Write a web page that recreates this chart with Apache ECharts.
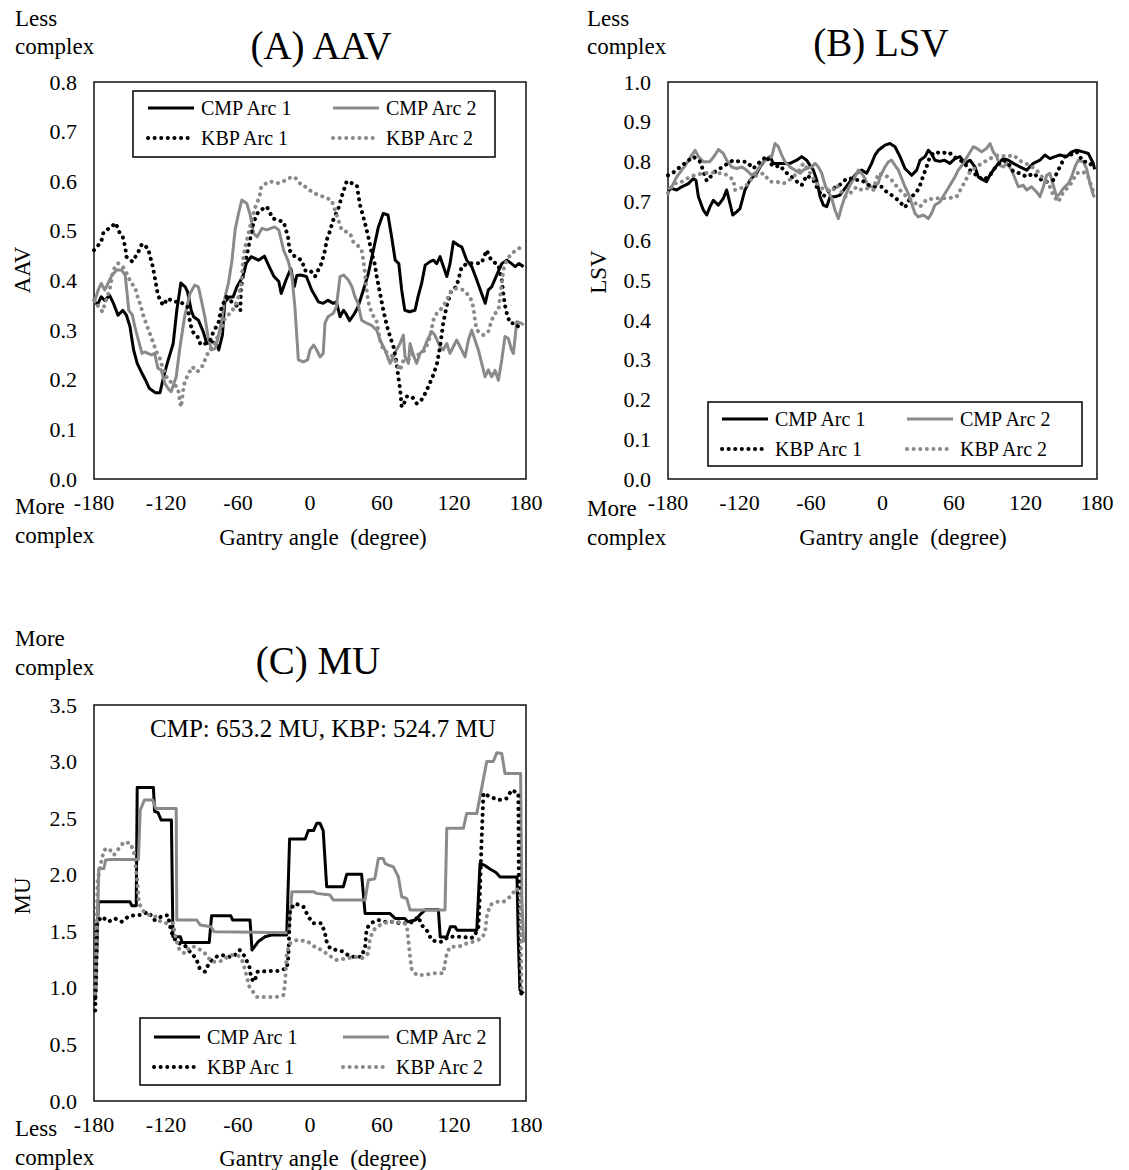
<!DOCTYPE html>
<html><head><meta charset="utf-8">
<script src="https://cdn.jsdelivr.net/npm/echarts@6/dist/echarts.min.js"></script>
<style>html,body{margin:0;padding:0;background:#fff}#c{width:1129px;height:1170px}</style>
</head><body><div id="c"></div>
<script>
// ---------- DATA ----------
const xTicks = [-180, -120, -60, 0, 60, 120, 180];
const seriesNames = ['CMP Arc 1', 'CMP Arc 2', 'KBP Arc 1', 'KBP Arc 2'];

// (A) AAV  [gantry angle, value]
const aavCmp1 = [[-180,0.357],[-177,0.352],[-174,0.367],[-171,0.36],[-167,0.37],[-164,0.355],[-160,0.33],[-156,0.34],[-153,0.33],[-150,0.307],[-147,0.26],[-144,0.233],[-140,0.213],[-137,0.199],[-134,0.183],[-129,0.174],[-125,0.174],[-122,0.206],[-119,0.233],[-114,0.273],[-111,0.34],[-107.6,0.395],[-104,0.387],[-102,0.377],[-99,0.34],[-97,0.327],[-93,0.32],[-89,0.297],[-86,0.273],[-82,0.277],[-78,0.273],[-76,0.26],[-73,0.29],[-71,0.357],[-67,0.367],[-64,0.367],[-61,0.387],[-56,0.408],[-53,0.435],[-49,0.448],[-43,0.441],[-38,0.449],[-34,0.428],[-30,0.408],[-26,0.398],[-24,0.374],[-20,0.401],[-16,0.424],[-13,0.388],[-11,0.41],[-8,0.411],[-3,0.408],[1.4,0.381],[7,0.357],[11,0.354],[15,0.36],[19.4,0.354],[22,0.357],[25,0.327],[28,0.34],[30,0.333],[33,0.319],[37,0.333],[40,0.347],[44.5,0.381],[48.6,0.414],[52.8,0.461],[57,0.508],[61,0.535],[65,0.532],[68,0.488],[71,0.441],[74,0.434],[76.4,0.381],[79,0.34],[83,0.337],[87.5,0.34],[90,0.367],[93,0.394],[96,0.431],[100,0.438],[103,0.441],[105.6,0.434],[108.4,0.448],[114,0.408],[116.7,0.434],[119.5,0.478],[123.6,0.471],[126.4,0.468],[130.6,0.441],[134.8,0.428],[139,0.401],[143,0.374],[146,0.354],[148.6,0.381],[151.4,0.387],[155.6,0.411],[159.8,0.434],[164,0.441],[168,0.434],[171,0.428],[174,0.434],[178,0.428]];
const aavCmp2 = [[-180,0.354],[-176.5,0.381],[-174,0.394],[-171,0.381],[-165,0.411],[-161,0.421],[-157,0.421],[-154,0.411],[-151,0.34],[-148,0.33],[-146,0.307],[-143,0.28],[-140,0.253],[-137.6,0.256],[-135,0.253],[-132,0.25],[-129.5,0.253],[-126.7,0.223],[-124,0.22],[-121,0.193],[-118.4,0.183],[-115.7,0.176],[-111.5,0.206],[-108.7,0.26],[-104.5,0.327],[-100,0.374],[-96,0.391],[-93,0.387],[-90.5,0.36],[-87.6,0.327],[-85,0.287],[-82,0.26],[-79,0.263],[-76.4,0.287],[-73.6,0.32],[-70.8,0.367],[-68,0.394],[-65,0.441],[-62.4,0.502],[-59.6,0.535],[-56.8,0.562],[-52.6,0.555],[-49.8,0.532],[-47,0.495],[-44,0.488],[-40,0.505],[-36,0.502],[-29.5,0.508],[-26,0.502],[-22,0.461],[-18,0.438],[-15,0.408],[-12.6,0.347],[-9.7,0.24],[-5.6,0.236],[-2,0.24],[0,0.26],[3,0.27],[5.6,0.26],[8.4,0.246],[11,0.253],[12.5,0.314],[15,0.327],[19.4,0.334],[22,0.347],[25,0.408],[28,0.411],[32,0.401],[35,0.387],[37.5,0.367],[40,0.354],[43,0.32],[47.2,0.314],[51,0.31],[55.6,0.3],[58.4,0.28],[62.5,0.26],[66.7,0.233],[69.5,0.246],[72,0.26],[75,0.273],[77.8,0.29],[79.2,0.246],[82,0.233],[83.4,0.273],[86,0.25],[88.9,0.233],[91.7,0.253],[94.5,0.26],[97.3,0.277],[101.4,0.297],[104,0.29],[108.4,0.267],[111,0.26],[114,0.273],[116.7,0.253],[119.5,0.267],[122.2,0.28],[125,0.267],[129.2,0.246],[132,0.28],[134.8,0.3],[137.5,0.28],[140.3,0.26],[143.1,0.233],[145.9,0.206],[148.6,0.22],[151.4,0.206],[154.2,0.219],[157,0.199],[159.8,0.24],[162.5,0.287],[165.3,0.283],[168,0.26],[169.5,0.253],[172.3,0.317],[176,0.314],[178,0.31]];
const aavKbp1 = [[-180,0.461],[-174,0.478],[-172,0.498],[-166,0.507],[-162,0.516],[-159,0.498],[-156,0.488],[-154,0.468],[-153,0.448],[-148,0.438],[-143.6,0.455],[-140,0.474],[-135,0.465],[-131,0.428],[-129.5,0.408],[-126.7,0.37],[-122.5,0.35],[-118.4,0.364],[-114,0.357],[-108,0.357],[-102,0.347],[-100,0.317],[-98,0.297],[-94.3,0.29],[-91,0.27],[-87,0.273],[-83,0.28],[-80.4,0.297],[-76.4,0.314],[-73.6,0.347],[-69.5,0.367],[-64,0.354],[-59.6,0.347],[-58,0.34],[-57.6,0.381],[-56.5,0.401],[-54,0.435],[-49.8,0.485],[-47,0.518],[-43,0.539],[-36,0.549],[-31,0.525],[-22,0.518],[-18.3,0.488],[-17,0.461],[-12.6,0.448],[-7,0.441],[-4,0.42],[0,0.421],[4.2,0.408],[9.7,0.435],[12.5,0.461],[14,0.482],[16.7,0.5],[19.4,0.522],[23.6,0.545],[26.4,0.569],[30.6,0.6],[35,0.596],[39,0.592],[41.7,0.552],[45.9,0.515],[48.6,0.488],[51.4,0.455],[54.2,0.431],[55.6,0.408],[58.4,0.374],[61.1,0.34],[64,0.31],[66.7,0.287],[69.5,0.267],[72.2,0.233],[73.6,0.206],[75,0.183],[76.4,0.145],[78,0.15],[80.6,0.166],[85,0.166],[89,0.152],[94,0.162],[98.6,0.186],[102.8,0.21],[105.6,0.23],[108.4,0.267],[111,0.314],[114,0.35],[118,0.381],[122,0.387],[126.4,0.428],[132,0.435],[137.5,0.435],[143,0.435],[147.2,0.461],[151,0.441],[157,0.431],[159.8,0.401],[161.1,0.374],[162.5,0.35],[164,0.334],[166.7,0.314],[171,0.314],[173.6,0.307],[178,0.307]];
const aavKbp2 = [[-180,0.36],[-173,0.337],[-170,0.36],[-167,0.381],[-164,0.421],[-160,0.435],[-156,0.428],[-152,0.411],[-149,0.394],[-146,0.388],[-143.6,0.367],[-140.8,0.347],[-139,0.33],[-136.7,0.314],[-134,0.297],[-131,0.277],[-128,0.256],[-125.5,0.246],[-124,0.233],[-121.3,0.216],[-118.4,0.199],[-114,0.193],[-110,0.183],[-109,0.166],[-107.5,0.145],[-105,0.19],[-102,0.209],[-98,0.226],[-94,0.216],[-90,0.226],[-87,0.243],[-84,0.26],[-80,0.267],[-77,0.287],[-73.6,0.303],[-71,0.323],[-66.7,0.334],[-62.5,0.347],[-59.6,0.367],[-57,0.401],[-55.5,0.448],[-54,0.468],[-50,0.508],[-46,0.545],[-42,0.569],[-40.6,0.589],[-34,0.6],[-27,0.596],[-22,0.6],[-18,0.606],[-13,0.609],[-7,0.592],[-5.5,0.592],[1.4,0.579],[7,0.572],[11,0.569],[18,0.562],[20.8,0.542],[23.6,0.522],[26.4,0.502],[33.4,0.495],[36,0.478],[40,0.47],[43,0.461],[44.5,0.441],[45.5,0.421],[47.2,0.381],[48.6,0.357],[51.4,0.334],[55.6,0.317],[58.4,0.28],[61.1,0.26],[65.3,0.253],[69.5,0.246],[72.2,0.233],[75,0.219],[78,0.24],[81.9,0.24],[86.2,0.253],[90,0.25],[95.9,0.26],[100,0.287],[102.8,0.32],[105.6,0.334],[108.4,0.34],[112.5,0.354],[115.3,0.367],[118,0.381],[122.2,0.384],[127.8,0.381],[133.4,0.367],[136.1,0.347],[137.5,0.32],[139,0.3],[144.5,0.29],[148.6,0.297],[151.4,0.32],[154,0.333],[157,0.34],[159.8,0.394],[161.1,0.421],[164,0.441],[168,0.455],[172.3,0.461],[176,0.468],[178,0.47]];

// (B) LSV
const lsvCmp1 = [[-180,0.725],[-177,0.732],[-172.7,0.728],[-168.5,0.736],[-162.9,0.744],[-158.7,0.757],[-156.5,0.752],[-154.5,0.711],[-150.3,0.677],[-147.5,0.665],[-144.7,0.686],[-141.9,0.702],[-137.7,0.69],[-133.6,0.707],[-130.8,0.728],[-128,0.694],[-125.7,0.665],[-122.4,0.673],[-119.6,0.681],[-115.4,0.728],[-111.2,0.753],[-105.6,0.77],[-102.8,0.786],[-98.6,0.803],[-94.4,0.812],[-91.6,0.795],[-86,0.795],[-81.8,0.795],[-77.6,0.795],[-72,0.803],[-67.8,0.812],[-63.6,0.803],[-60.8,0.79],[-58,0.778],[-55.2,0.753],[-52.4,0.711],[-49.6,0.69],[-46.8,0.686],[-44,0.711],[-39.8,0.711],[-35.7,0.715],[-31.5,0.732],[-27.3,0.749],[-21.7,0.77],[-17.5,0.778],[-13.3,0.77],[-9.1,0.795],[-6.3,0.816],[-3.5,0.828],[2.1,0.841],[6.3,0.845],[10.5,0.837],[14.7,0.812],[18.9,0.782],[24.5,0.765],[28.7,0.778],[31.5,0.803],[35.7,0.812],[38.5,0.828],[41,0.82],[44,0.803],[48,0.8],[52,0.803],[56.6,0.795],[60.8,0.807],[65,0.812],[69.2,0.795],[73.4,0.803],[77.6,0.786],[80.4,0.761],[84.6,0.753],[87.4,0.749],[90,0.765],[93,0.778],[97.2,0.795],[101.4,0.807],[105.6,0.803],[109.8,0.795],[115.4,0.786],[121,0.778],[126.6,0.795],[132.1,0.803],[136.3,0.816],[140.5,0.807],[144.7,0.812],[148.9,0.816],[154.5,0.812],[158.7,0.824],[162.9,0.828],[168.5,0.824],[172.7,0.82],[176.9,0.795],[178,0.78]];
const lsvCmp2 = [[-180,0.73],[-176.9,0.736],[-172.7,0.761],[-168.5,0.778],[-164.3,0.795],[-160.1,0.816],[-157.3,0.828],[-154.5,0.812],[-150.3,0.799],[-145,0.799],[-140.5,0.816],[-137.7,0.83],[-133.6,0.82],[-130.8,0.803],[-126.6,0.786],[-122.4,0.782],[-118,0.786],[-114,0.778],[-109.8,0.765],[-105.6,0.774],[-101.4,0.795],[-97.2,0.807],[-93,0.812],[-90.2,0.845],[-87.4,0.837],[-84.6,0.816],[-81.8,0.799],[-77.6,0.786],[-73.4,0.778],[-69.2,0.77],[-66.4,0.778],[-63.6,0.782],[-59.4,0.786],[-56.6,0.795],[-53.8,0.786],[-51,0.77],[-48.2,0.74],[-45.4,0.723],[-42.6,0.707],[-39.8,0.677],[-37,0.656],[-34.3,0.686],[-31.5,0.711],[-27.3,0.74],[-23.1,0.761],[-20.3,0.778],[-17.5,0.77],[-14.7,0.757],[-11.9,0.736],[-7.7,0.736],[-3.5,0.745],[-2.1,0.761],[2.1,0.786],[4.9,0.799],[7.7,0.803],[10.5,0.79],[13.3,0.778],[16.1,0.757],[18.9,0.736],[21.7,0.719],[24.5,0.694],[27.3,0.669],[30.1,0.66],[34.3,0.665],[38.4,0.656],[41.2,0.669],[44,0.69],[48.2,0.698],[52.4,0.719],[56.6,0.74],[60.8,0.761],[63.6,0.778],[67.8,0.795],[72,0.816],[76.2,0.837],[79,0.833],[83.2,0.824],[87.4,0.833],[90.2,0.845],[93,0.824],[95.8,0.812],[98.6,0.79],[101.4,0.786],[104.2,0.795],[108.4,0.778],[111.2,0.757],[114,0.736],[118,0.74],[121,0.728],[125,0.736],[129.3,0.723],[132.1,0.711],[135,0.736],[137.7,0.765],[140.5,0.77],[143.3,0.74],[146.1,0.711],[148.9,0.719],[151.7,0.732],[155.9,0.744],[158.7,0.761],[161.5,0.786],[164.3,0.803],[168.5,0.799],[171.3,0.782],[174.1,0.744],[176.9,0.715],[178,0.71]];
const lsvKbp1 = [[-180,0.765],[-176,0.771],[-170,0.786],[-164.3,0.799],[-158.7,0.812],[-153,0.799],[-150,0.772],[-147.5,0.751],[-140.5,0.774],[-136.3,0.782],[-130.8,0.793],[-125.2,0.803],[-119.6,0.799],[-114,0.799],[-108.4,0.782],[-102.8,0.799],[-97.2,0.813],[-94.4,0.795],[-90.2,0.786],[-86,0.79],[-81.8,0.774],[-77.6,0.765],[-73.4,0.753],[-67.8,0.74],[-63.6,0.765],[-58,0.753],[-55.2,0.736],[-52.4,0.721],[-49.6,0.711],[-46.8,0.723],[-44,0.728],[-38.4,0.736],[-34.3,0.744],[-30.1,0.757],[-25.9,0.757],[-21.7,0.753],[-17.5,0.753],[-13.3,0.744],[-9.1,0.736],[-5,0.736],[-0.7,0.736],[3.5,0.723],[7.7,0.715],[13.3,0.702],[18.9,0.684],[23.1,0.707],[28.7,0.723],[31.5,0.74],[34.3,0.765],[37,0.786],[39.8,0.812],[44,0.824],[49.6,0.82],[55.2,0.824],[62.2,0.807],[67.8,0.799],[73.4,0.778],[79,0.765],[84.6,0.753],[90.2,0.765],[95.8,0.79],[101.4,0.803],[105.6,0.795],[109.8,0.774],[115.4,0.77],[121,0.761],[126.6,0.77],[132.1,0.757],[135,0.749],[139,0.749],[143.3,0.753],[147.5,0.778],[153.1,0.812],[157.3,0.816],[162.9,0.824],[168.5,0.799],[172.7,0.799],[176.9,0.786],[178,0.78]];
const lsvKbp2 = [[-180,0.72],[-175.5,0.744],[-170,0.746],[-164,0.757],[-158,0.765],[-150.3,0.77],[-143,0.772],[-136,0.77],[-133,0.77],[-128,0.76],[-125,0.753],[-124,0.728],[-119.6,0.732],[-115,0.736],[-111,0.753],[-105.6,0.765],[-100,0.77],[-94.4,0.749],[-89,0.749],[-83.2,0.744],[-76.2,0.757],[-70.6,0.774],[-66.4,0.795],[-62.2,0.778],[-58,0.757],[-53.8,0.74],[-50.5,0.732],[-46.8,0.728],[-42.6,0.724],[-38.4,0.74],[-34.3,0.723],[-31.5,0.711],[-25.9,0.723],[-21.7,0.736],[-17.5,0.728],[-13,0.732],[-7.7,0.728],[-3.5,0.77],[2,0.766],[7.7,0.753],[13.3,0.732],[18.9,0.715],[24.5,0.702],[31.5,0.686],[37,0.704],[45.4,0.707],[55.2,0.707],[62.2,0.711],[69.2,0.749],[73.4,0.774],[79,0.786],[83.2,0.795],[90.2,0.807],[97.2,0.816],[104.2,0.812],[109.8,0.816],[116.8,0.799],[123.8,0.79],[129.3,0.778],[135,0.757],[140.5,0.736],[143.3,0.715],[147.5,0.698],[151.7,0.723],[157.3,0.74],[162.9,0.77],[168.5,0.774],[172.7,0.76],[175.5,0.736],[178,0.715]];

// (C) MU
const muCmp1 = [[-179,0.89],[-176.4,1.76],[-150,1.76],[-148.5,1.726],[-144.8,1.726],[-144,2.77],[-130.5,2.77],[-129.5,2.56],[-126.7,2.55],[-124,2.483],[-115.5,2.483],[-114.2,1.452],[-108,1.452],[-106.5,1.4],[-84,1.4],[-82,1.637],[-66,1.637],[-64.5,1.6],[-50,1.6],[-48.3,1.334],[-43,1.41],[-37.5,1.452],[-32,1.467],[-19.4,1.467],[-17,2.315],[-4,2.315],[-1.4,2.39],[3,2.39],[5.6,2.454],[8.4,2.454],[11,2.39],[13.9,1.894],[27.8,1.894],[30.6,2.003],[43,2.003],[45.9,1.658],[66.5,1.658],[70.9,1.614],[79,1.614],[81.5,1.585],[88,1.6],[92,1.65],[96,1.69],[107,1.69],[108.5,1.45],[114,1.45],[117,1.54],[121,1.54],[122.5,1.51],[139,1.51],[141.7,2.1],[146,2.08],[150,2.05],[155,2.02],[158.4,1.98],[172.5,1.98],[173.6,1.42],[175,0.98],[178,0.95]];
const muCmp2 = [[-178.5,0.95],[-176,2.056],[-171.7,2.056],[-170.3,2.13],[-166,2.135],[-143,2.135],[-141.5,2.57],[-138,2.66],[-131,2.66],[-128.6,2.586],[-111.5,2.586],[-111,1.6],[-94.4,1.6],[-91.6,1.556],[-82.5,1.54],[-80,1.496],[-17.8,1.487],[-15,1.85],[2.8,1.85],[5.6,1.835],[16.7,1.82],[19.4,1.776],[45.9,1.776],[48.6,1.953],[54,1.965],[57,2.144],[61,2.144],[62.5,2.1],[65.3,2.085],[69.5,2.07],[73.6,1.982],[76.4,1.805],[80.6,1.79],[83.4,1.688],[112.5,1.688],[114,2.41],[127.8,2.41],[130.6,2.542],[139,2.542],[143,2.763],[147.3,3.0],[152.8,3.0],[155.6,3.078],[159.8,3.072],[162.5,2.895],[175.5,2.895],[176.5,1.8],[178,1.4]];
const muKbp1 = [[-179,0.8],[-178,1.2],[-177.5,1.58],[-173.5,1.63],[-168,1.585],[-162.6,1.614],[-157,1.585],[-151.5,1.63],[-146,1.643],[-140.5,1.643],[-135,1.673],[-129.5,1.6],[-124,1.63],[-118.4,1.643],[-115.6,1.496],[-111.5,1.408],[-108,1.39],[-104.5,1.378],[-99,1.305],[-94.9,1.26],[-92,1.172],[-87.6,1.143],[-83.5,1.231],[-78,1.275],[-73.6,1.29],[-68,1.275],[-64,1.275],[-58.5,1.334],[-54.5,1.28],[-50.5,1.187],[-49,1.084],[-46.4,1.054],[-43.6,1.143],[-35,1.148],[-27,1.148],[-19.4,1.172],[-18,1.275],[-16.7,1.688],[-12.5,1.746],[-5.5,1.717],[-1.4,1.63],[2.8,1.57],[9.7,1.57],[12.5,1.48],[13.9,1.408],[16.7,1.35],[22.2,1.334],[27.8,1.32],[33.4,1.275],[38,1.275],[43,1.275],[45.9,1.363],[47.2,1.526],[51.4,1.576],[57,1.6],[62.5,1.585],[70,1.585],[75,1.57],[82,1.57],[86,1.585],[90.3,1.63],[93,1.555],[97.3,1.51],[101.4,1.423],[105.6,1.408],[110,1.408],[115.3,1.452],[122.2,1.452],[128,1.452],[133.4,1.437],[137,1.452],[140.3,1.54],[141.7,1.864],[143,2.306],[144.5,2.72],[150,2.69],[157,2.66],[164,2.675],[168,2.748],[173.6,2.72],[174,2.012],[175,1.04],[176,0.95]];
const muKbp2 = [[-179,0.95],[-177,1.953],[-174,2.115],[-171.7,2.218],[-167.6,2.233],[-163.4,2.174],[-159.3,2.233],[-155,2.29],[-149.5,2.277],[-146.7,2.19],[-144,1.953],[-142.5,1.746],[-138.5,1.673],[-134,1.643],[-128.6,1.63],[-124.5,1.585],[-119,1.57],[-114.3,1.57],[-111.5,1.423],[-108.7,1.334],[-104.5,1.305],[-100,1.363],[-96,1.363],[-91,1.334],[-87.6,1.305],[-82,1.231],[-76,1.231],[-72.3,1.246],[-66.7,1.29],[-61,1.29],[-58.5,1.275],[-56,1.231],[-53,1.113],[-50.5,1.01],[-44.4,0.92],[-36,0.92],[-27.8,0.92],[-22.2,0.936],[-20.8,1.04],[-19.4,1.305],[-16.7,1.393],[-11,1.423],[-2,1.41],[5.6,1.35],[10,1.335],[15.3,1.29],[22.2,1.246],[30.6,1.26],[37.5,1.275],[43,1.26],[48.6,1.305],[50,1.437],[52.8,1.51],[58.4,1.555],[65.3,1.585],[72,1.585],[79.2,1.57],[80.6,1.555],[82,1.423],[83.4,1.275],[84.8,1.16],[89,1.113],[95,1.113],[102.8,1.128],[111,1.128],[112.5,1.216],[114,1.305],[116.7,1.363],[123.6,1.363],[130.6,1.393],[136.1,1.408],[143,1.437],[145.9,1.49],[147.3,1.63],[150,1.732],[155.6,1.76],[161,1.76],[166.7,1.805],[172.3,1.88],[175,1.82],[176.4,0.95]];

const panelTitles = ['(A) AAV', '(B) LSV', '(C) MU'];
const yNames = ['AAV', 'LSV', 'MU'];
const xName = 'Gantry angle\u00a0 (degree)';
const yMax = [0.8, 1.0, 3.5];
const yStep = [0.1, 0.1, 0.5];
const muNote = 'CMP: 653.2 MU, KBP: 524.7 MU';

// ---------- LAYOUT / STYLE ----------
const FONT = '"Liberation Serif", "Times New Roman", serif';
const BLACK = '#000000', GRAY = '#8a8a8a';
const grids = [
  {left: 94, top: 82, width: 432, height: 397},
  {left: 668, top: 82, width: 429, height: 397},
  {left: 94, top: 705, width: 432, height: 396}
];
const panelData = [
  [aavCmp1, aavCmp2, aavKbp1, aavKbp2],
  [lsvCmp1, lsvCmp2, lsvKbp1, lsvKbp2],
  [muCmp1, muCmp2, muKbp1, muKbp2]
];
const styles = [
  {color: BLACK, type: 'solid', width: 3},
  {color: GRAY, type: 'solid', width: 3},
  {color: BLACK, type: [0.1, 6.5], width: 4, cap: 'round'},
  {color: GRAY, type: [0.1, 6.5], width: 4, cap: 'round'}
];

const series = [];
panelData.forEach((arrs, p) => {
  arrs.forEach((d, i) => {
    series.push({
      name: seriesNames[i], type: 'line', xAxisIndex: p, yAxisIndex: p,
      data: d, symbol: 'none', showSymbol: false, animation: false,
      lineStyle: Object.assign({join: 'round'}, styles[i]),
      itemStyle: {color: styles[i].color},
      z: 2 + i
    });
  });
});

const xAxes = grids.map((g, p) => ({
  type: 'value', gridIndex: p, min: -180, max: 180, interval: 60,
  axisLine: {show: false}, axisTick: {show: false}, splitLine: {show: false},
  axisLabel: {color: '#000', fontFamily: FONT, fontSize: 22, margin: 12}
}));
const yAxes = grids.map((g, p) => ({
  type: 'value', gridIndex: p, min: 0, max: yMax[p], interval: yStep[p],
  axisLine: {show: false}, axisTick: {show: false}, splitLine: {show: false},
  axisLabel: {color: '#000', fontFamily: FONT, fontSize: 22, margin: 17,
    formatter: v => v.toFixed(1)}
}));

// legends: two columns per panel; each key item gets its series' line style
const legendPos = [
  {c1: 146, c2: 331, top: 98, box: [133, 91, 362, 66]},
  {c1: 720, c2: 905, top: 409, box: [708, 402, 374, 64]},
  {c1: 152, c2: 341, top: 1027, box: [140, 1018, 360, 67]}
];
const legendItem = i => ({
  name: seriesNames[i],
  itemStyle: {opacity: 0},
  lineStyle: {color: styles[i].color, width: styles[i].width, type: styles[i].type, cap: styles[i].cap || 'butt', opacity: 1}
});
const legends = [];
legendPos.forEach(lp => {
  [[lp.c1, [0, 2]], [lp.c2, [1, 3]]].forEach(([x, idx]) => {
    legends.push({
      left: x, top: lp.top, orient: 'vertical', padding: 0, itemGap: 10, z: 60,
      itemWidth: 46, itemHeight: 14, selectedMode: false,
      itemStyle: {opacity: 0},
      data: idx.map(legendItem),
      textStyle: {fontFamily: FONT, fontSize: 20, color: '#000', lineHeight: 20, padding: [0, 0, 0, 2]}
    });
  });
});

function txt(text, x, y, size, align, extra) {
  return Object.assign({
    type: 'text', x: x, y: y, z: 100,
    style: {text: text, fill: '#000', fontFamily: FONT, fontSize: size,
      textAlign: align || 'left', align: align || 'left',
      textVerticalAlign: 'middle', verticalAlign: 'middle'}
  }, extra || {});
}
const graphics = [];
// legend frames (no fill)
legendPos.forEach(lp => graphics.push({
  type: 'rect', z: 1, shape: {x: lp.box[0], y: lp.box[1], width: lp.box[2], height: lp.box[3]},
  style: {fill: null, stroke: '#000', lineWidth: 1.5}
}));
// titles
graphics.push(txt(panelTitles[0], 321, 45, 39, 'center'));
graphics.push(txt(panelTitles[1], 881, 42, 39, 'center'));
graphics.push(txt(panelTitles[2], 318, 660, 39, 'center'));
// complexity notes
[['Less', 15, 18], ['complex', 15, 46], ['More', 15, 506], ['complex', 15, 535],
 ['Less', 587, 18], ['complex', 587, 46], ['More', 587, 508], ['complex', 587, 537],
 ['More', 15, 638], ['complex', 15, 667], ['Less', 15, 1128], ['complex', 15, 1157]]
  .forEach(([t, x, y]) => graphics.push(txt(t, x, y, 23, 'left')));
// axis names
graphics.push(txt(xName, 323, 537, 23, 'center'));
graphics.push(txt(xName, 903, 537, 23, 'center'));
graphics.push(txt(xName, 323, 1158, 23, 'center'));
graphics.push(txt(yNames[0], 22, 270, 23, 'center', {rotation: Math.PI / 2}));
graphics.push(txt(yNames[1], 598, 272, 23, 'center', {rotation: Math.PI / 2}));
graphics.push(txt(yNames[2], 22, 896, 23, 'center', {rotation: Math.PI / 2}));
// MU note
graphics.push(txt(muNote, 150, 728, 25, 'left'));

const chart = echarts.init(document.getElementById('c'), null, {renderer: 'svg'});
chart.setOption({
  backgroundColor: '#fff',
  animation: false,
  grid: grids.map(g => Object.assign({show: true, borderColor: '#111', borderWidth: 1.5, backgroundColor: 'transparent', containLabel: false}, g)),
  xAxis: xAxes, yAxis: yAxes,
  legend: legends,
  graphic: {elements: graphics},
  series: series
});
</script></body></html>
